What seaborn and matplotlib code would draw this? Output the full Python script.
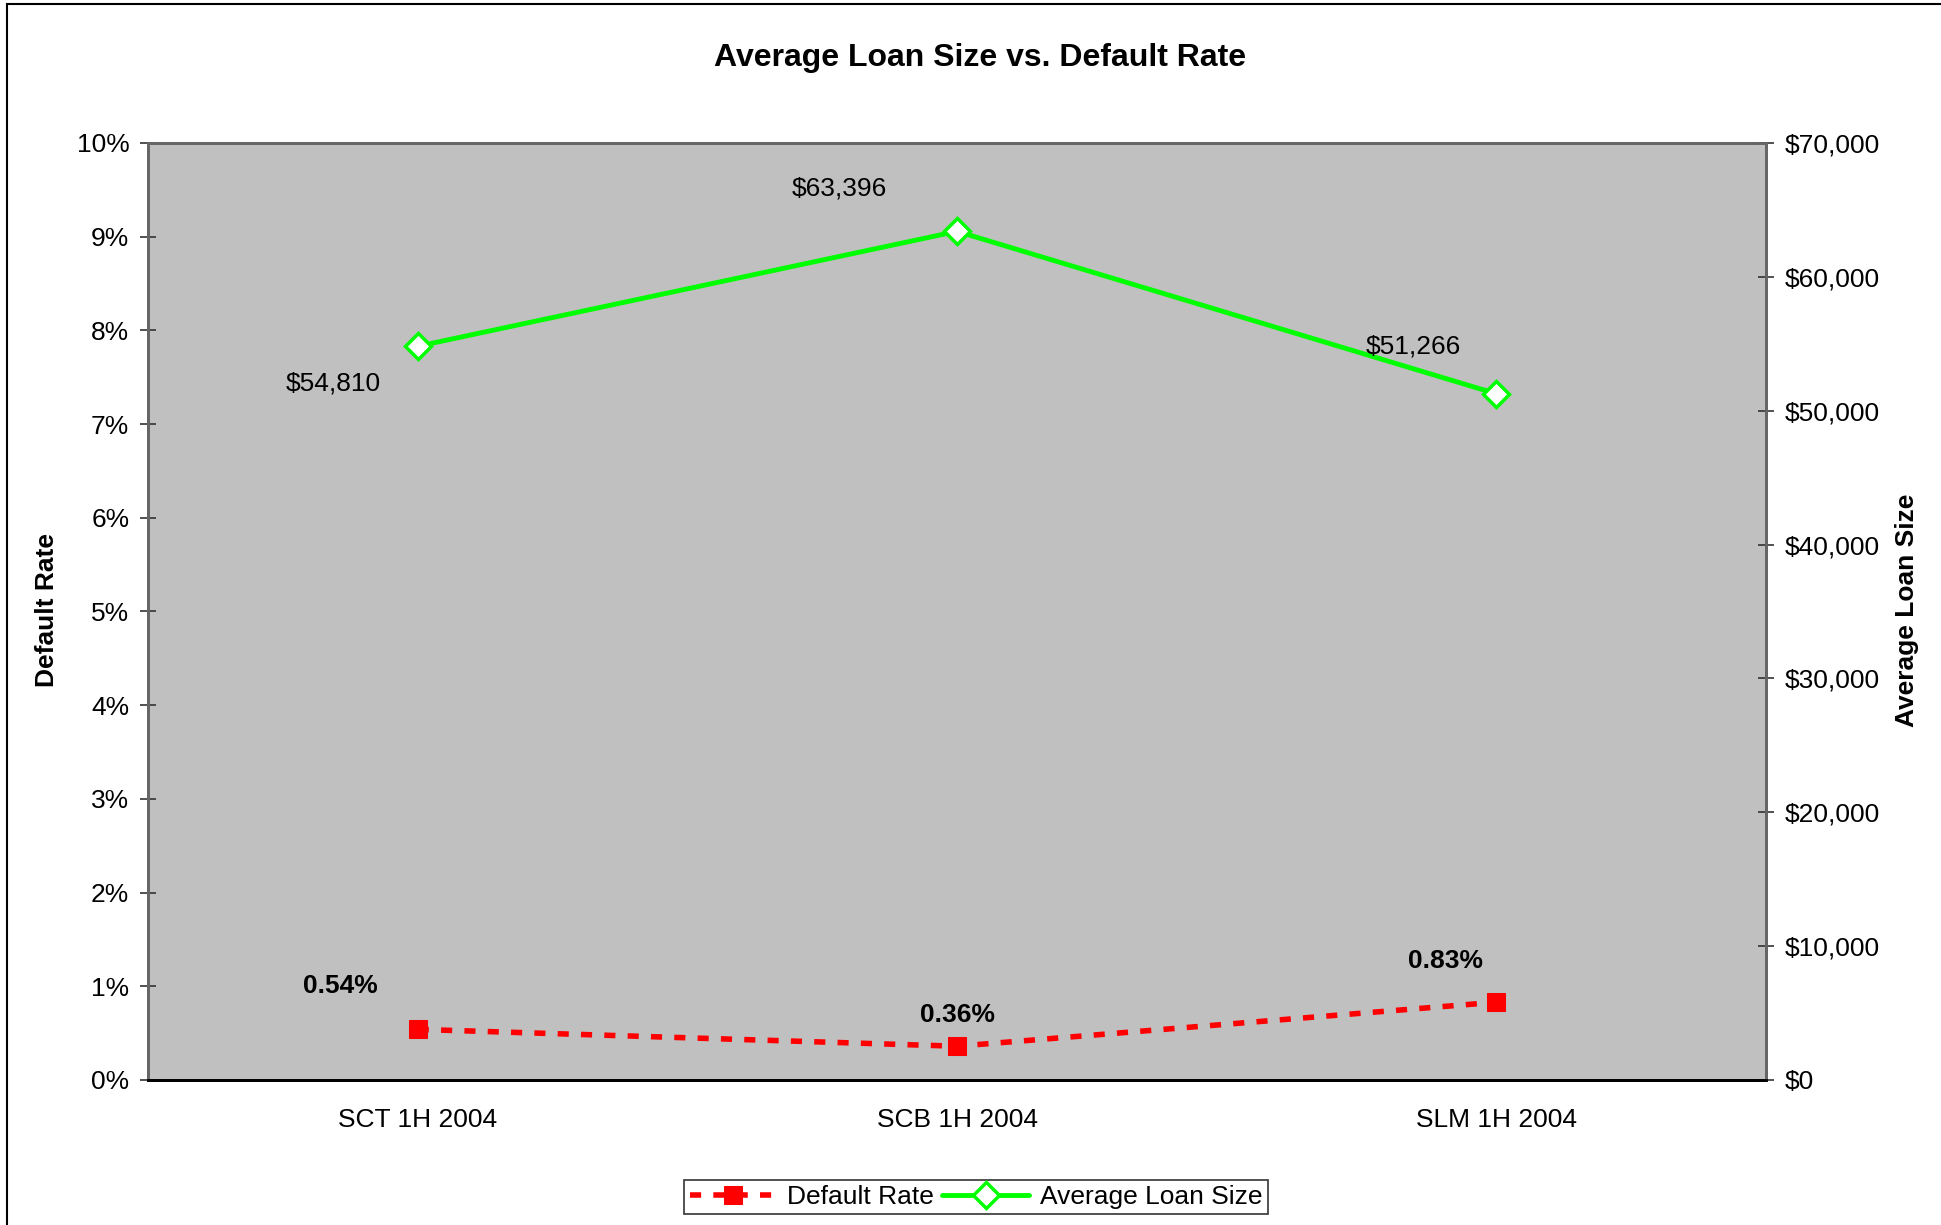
import matplotlib
matplotlib.use('Agg')
import matplotlib.pyplot as plt
import matplotlib.patches as patches
from matplotlib.ticker import FuncFormatter, MultipleLocator, FixedLocator
import seaborn as sns

categories = ['SCT 1H 2004', 'SCB 1H 2004', 'SLM 1H 2004']
default_rates = [0.0054, 0.0036, 0.0083]
loan_sizes = [54810, 63396, 51266]
rate_labels = ['0.54%', '0.36%', '0.83%']
loan_labels = ['$54,810', '$63,396', '$51,266']

sns.set_style('white')
plt.rcParams['font.family'] = ['Liberation Sans', 'DejaVu Sans']
plt.rcParams['text.color'] = 'black'
plt.rcParams['axes.labelcolor'] = 'black'
plt.rcParams['xtick.color'] = 'black'
plt.rcParams['ytick.color'] = 'black'

fig = plt.figure(figsize=(19.41, 12.25), dpi=100)
ax = fig.add_axes([0.0763, 0.1184, 0.8335, 0.7649])
ax.set_facecolor('#C0C0C0')
ax2 = ax.twinx()

sns.lineplot(x=categories, y=default_rates, ax=ax, color='#FF0000', sort=False,
             linewidth=4, linestyle=(0, (2, 2.2)), marker='s', markersize=13,
             markeredgecolor='#FF0000', label='Default Rate', legend=False)
sns.lineplot(x=categories, y=loan_sizes, ax=ax2, color='#00FF00', sort=False,
             linewidth=3.5, marker='D', markersize=13, markerfacecolor='white',
             markeredgecolor='#00FF00', markeredgewidth=2.5,
             label='Average Loan Size', legend=False)

ax.set_xlim(-0.5, 2.5)
ax.set_ylim(0, 0.10)
ax2.set_ylim(0, 70000)

ax.yaxis.set_major_locator(MultipleLocator(0.01))
ax.yaxis.set_major_formatter(FuncFormatter(lambda v, p: f'{v*100:.0f}%'))
ax2.yaxis.set_major_locator(MultipleLocator(10000))
ax2.yaxis.set_major_formatter(FuncFormatter(lambda v, p: f'${v:,.0f}'))

ax.xaxis.set_minor_locator(FixedLocator([-0.5, 0.5, 1.5, 2.5]))
ax.tick_params(axis='x', which='major', length=0, pad=20, labelsize=19)
ax.tick_params(axis='x', which='minor', length=8, width=1.2, direction='out', color='#333333')
ax.tick_params(axis='y', length=11, width=1.2, direction='inout', pad=8, labelsize=19,
               color='#333333', left=True)
ax2.tick_params(axis='y', length=11, width=1.2, direction='inout', pad=8, labelsize=19,
                color='#333333', right=True)
ax.set_xlabel('')
ax.set_ylabel('')
ax2.set_ylabel('')

for a in (ax, ax2):
    for side in ('top', 'left', 'right'):
        a.spines[side].set_color('#666666')
        a.spines[side].set_linewidth(2)
    a.spines['bottom'].set_color('black')
    a.spines['bottom'].set_linewidth(2)

rate_offsets = [(-77, 43), (0, 31), (-51, 41)]
for i, (val, lab) in enumerate(zip(default_rates, rate_labels)):
    ax.annotate(lab, (i, val), xytext=rate_offsets[i], textcoords='offset pixels',
                ha='center', va='center', fontsize=19, fontweight='bold')

loan_offsets = [(-84, -37), (-118, 43), (-83, 47)]
for i, (val, lab) in enumerate(zip(loan_sizes, loan_labels)):
    ax2.annotate(lab, (i, val), xytext=loan_offsets[i], textcoords='offset pixels',
                 ha='center', va='center', fontsize=19)

fig.text(980 / 1941, 0.953, 'Average Loan Size vs. Default Rate', ha='center', va='center',
         fontsize=23, fontweight='bold')
fig.text(47 / 1941, 0.502, 'Default Rate', rotation=90, ha='center', va='center',
         fontsize=19, fontweight='bold')
fig.text(1907 / 1941, 0.502, 'Average Loan Size', rotation=90, ha='center', va='center',
         fontsize=19, fontweight='bold')

h1, l1 = ax.get_legend_handles_labels()
h2, l2 = ax2.get_legend_handles_labels()
leg = fig.legend(h1 + h2, l1 + l2, loc='center', bbox_to_anchor=(976 / 1941, 1 - 1197 / 1225),
                 ncol=2, fontsize=19, frameon=True, fancybox=False, edgecolor='black',
                 handlelength=3.3, handletextpad=0.4, columnspacing=0.3,
                 borderpad=0.2, borderaxespad=0)
leg.get_frame().set_linewidth(1.2)

fig.patches.append(patches.Rectangle((7 / 1941, -0.05), 1.2, 1 - 4 / 1225 + 0.05,
                                     transform=fig.transFigure, fill=False,
                                     edgecolor='black', linewidth=1.5))

fig.savefig('out.png', dpi=100)
